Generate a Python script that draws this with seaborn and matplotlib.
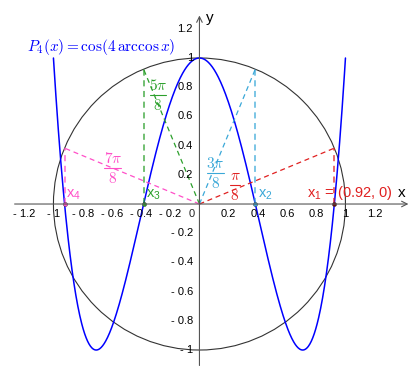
import numpy as np
import pandas as pd
import seaborn as sns
import matplotlib
matplotlib.use("Agg")
import matplotlib.pyplot as plt
from matplotlib.patches import Circle

# data
cheb_coeffs = [8, 0, -8, 0, 1]          # P4(x) = 8x^4 - 8x^2 + 1 = cos(4 arccos x)
x_domain = [-1.0, 1.0]
angle_numerators = [1, 3, 5, 7]         # angles k*pi/8
angle_colors = ["#e02020", "#3aa8d8", "#2ca02c", "#ff4fc8"]
root_labels = [r"$\mathregular{x_1}$ = (0.92, 0)", r"$\mathregular{x_2}$",
               r"$\mathregular{x_3}$", r"$\mathregular{x_4}$"]
frac_nums = [r"$\pi$", r"$3\pi$", r"$5\pi$", r"$7\pi$"]
frac_den = r"$8$"
x_ticks = [-1.2, -1, -0.8, -0.6, -0.4, -0.2, 0.2, 0.4, 0.6, 0.8, 1, 1.2]
y_ticks = [1.2, 1, 0.8, 0.6, 0.4, 0.2, -0.2, -0.4, -0.6, -0.8, -1]

sns.set_style("white")
plt.rcParams["font.family"] = ["Liberation Sans", "DejaVu Sans"]
plt.rcParams["mathtext.fontset"] = "cm"

fig = plt.figure(figsize=(4.17, 3.80), dpi=100)
ax = fig.add_axes([0, 0, 1, 1])
ax.set_xlim(-1.366, 1.49)
ax.set_ylim(-1.205, 1.397)
ax.set_aspect("equal")

# axes with arrows
axis_col = "#555555"
ax.annotate("", xy=(1.45, 0), xytext=(-1.285, 0),
            arrowprops=dict(arrowstyle="->", color=axis_col, lw=0.8))
ax.annotate("", xy=(0, 1.31), xytext=(0, -1.125),
            arrowprops=dict(arrowstyle="->", color=axis_col, lw=0.8))
ax.text(1.36, 0.05, "x", fontsize=11, color="black")
ax.text(0.045, 1.25, "y", fontsize=11, color="black")

for t in x_ticks:
    lab = ("- " if t < 0 else "") + ("%g" % abs(t))
    ax.text(t, -0.07, lab, fontsize=8, ha="center", va="center", color="black")
ax.text(-0.05, -0.07, "0", fontsize=8, ha="center", va="center")
for t in y_ticks:
    lab = ("- " if t < 0 else "") + ("%g" % abs(t))
    ax.text(-0.045, t, lab, fontsize=8, ha="right", va="center", color="black")

# unit circle
ax.add_patch(Circle((0, 0), 1, fill=False, ec="#333333", lw=0.8))

# Chebyshev polynomial
xs = np.linspace(x_domain[0], x_domain[1], 600)
df = pd.DataFrame({"x": xs, "y": np.polyval(cheb_coeffs, xs)})
sns.lineplot(data=df, x="x", y="y", ax=ax, color="#0000ff", lw=1.1, sort=False)
ax.axis("off")
ax.text(-1.18, 1.075, r"$P_4(x) = \cos(4\,\mathrm{arccos}\,x)$",
        fontsize=11, color="#0000ff", va="center")

# angle rays, projections and roots
frac_pos = [(0.243, 0.128), (0.107, 0.212), (-0.284, 0.747), (-0.593, 0.247)]
frac_half = [0.035, 0.058, 0.055, 0.058]
root_pos = [(0.735, 0.045), (0.40, 0.045), (-0.368, 0.045), (-0.914, 0.045)]
for k, col, rl, num, fp, fh, rp in zip(angle_numerators, angle_colors, root_labels,
                                       frac_nums, frac_pos, frac_half, root_pos):
    th = k * np.pi / 8
    cx, cy = np.cos(th), np.sin(th)
    ax.plot([0, cx], [0, cy], ls=(0, (4, 3)), color=col, lw=0.9)
    ax.plot([cx, cx], [0, cy], ls=(0, (4, 3)), color=col, lw=1.1, alpha=0.85)
    ax.plot([cx], [0], "o", ms=3, color="#6a1010" if k == 1 else col, mec="#333333", mew=0.3)
    # fraction k*pi / 8
    ax.text(fp[0], fp[1] + 0.065, num, fontsize=11, color=col, ha="center", va="center")
    ax.plot([fp[0] - fh, fp[0] + fh], [fp[1], fp[1]], color=col, lw=0.8)
    ax.text(fp[0], fp[1] - 0.07, frac_den, fontsize=11, color=col, ha="center", va="center")
    ax.text(rp[0], rp[1], rl, fontsize=10.5, color=col, ha="left", va="baseline")

fig.savefig("out.png", dpi=100)
